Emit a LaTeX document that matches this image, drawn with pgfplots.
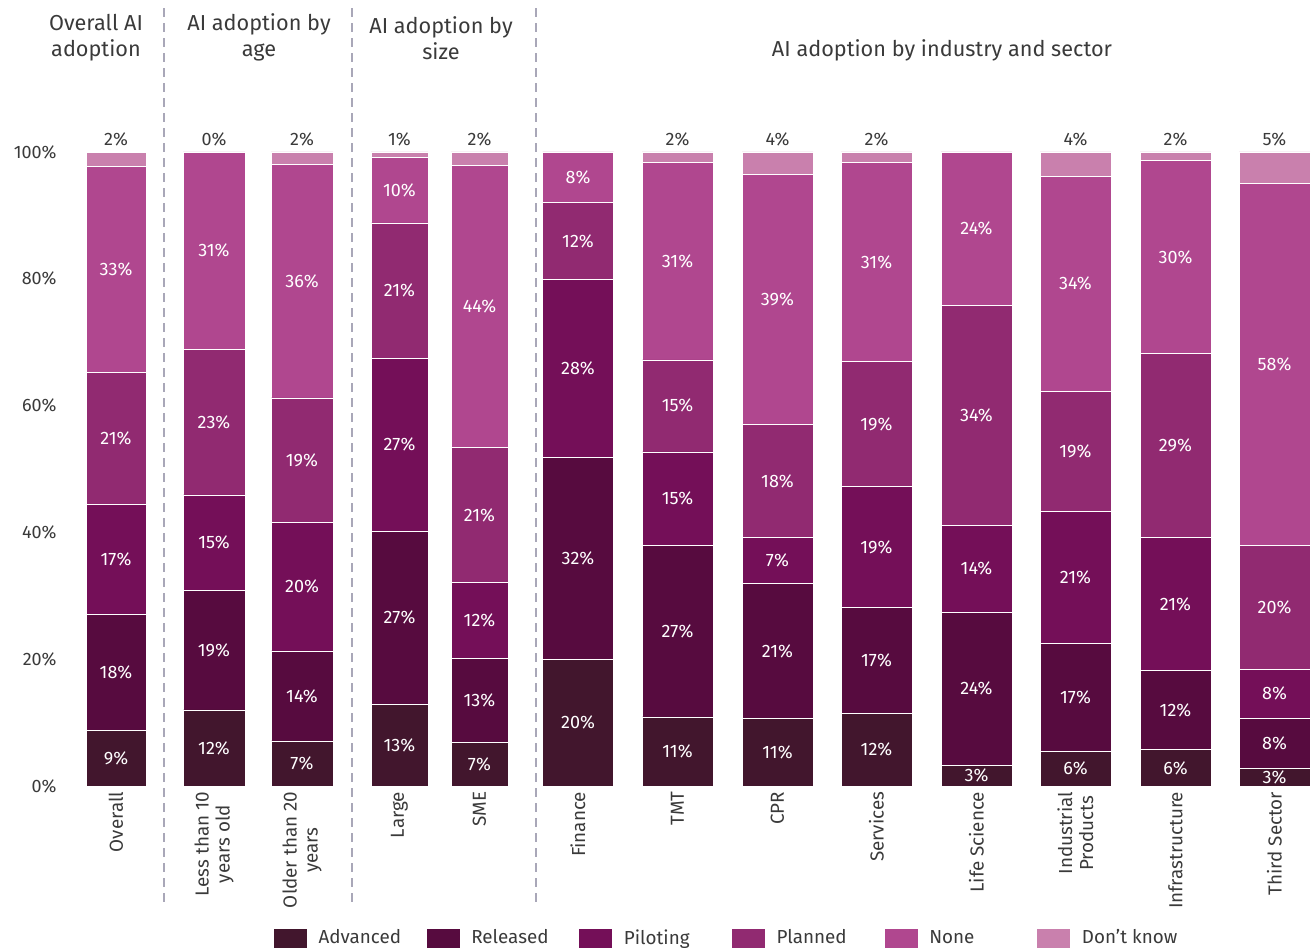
\documentclass[border=0pt]{standalone}
\usepackage{pgfplots}
\usepackage{pgfplotstable}
\pgfplotsset{compat=1.18}
\usepackage{fontspec}
\setmainfont{Fira Sans}
\definecolor{cAdv}{HTML}{42162D}
\definecolor{cRel}{HTML}{570B3F}
\definecolor{cPil}{HTML}{740F58}
\definecolor{cPla}{HTML}{912A71}
\definecolor{cNon}{HTML}{B0478F}
\definecolor{cDk}{HTML}{C980AD}
\definecolor{txt}{HTML}{3A3A3A}
\definecolor{divc}{HTML}{A9A7B8}
\def\nolbl{-}
\newcommand{\lblfont}{\fontsize{10.8}{12}\selectfont}
\newcommand{\tickfont}{\fontsize{10.8}{12.5}\selectfont}
\newcommand{\xtickfont}{\fontsize{11.3}{12.6}\selectfont}
\newcommand{\headfont}{\fontsize{13}{15.6}\selectfont}
\tikzset{divline/.style={divc, line width=1.2pt, dash pattern=on 5.4pt off 3.6pt}}

\pgfplotstableread{
x adv advL rel relL pil pilL pla plaL non nonL dk dkL
116 8.7 9 18.3 18 17.4 17 20.8 21 32.5 33 2.3 2
}\tA
\pgfplotstableread{
x adv advL rel relL pil pilL pla plaL non nonL dk dkL
214 12.0 12 18.9 19 15.0 15 23.0 23 31.09 31 0.01 0
302 7.1 7 14.2 14 20.3 20 19.6 19 36.8 36 2.0 2
}\tB
\pgfplotstableread{
x adv advL rel relL pil pilL pla plaL non nonL dk dkL
399.5 12.9 13 27.3 27 27.3 27 21.3 21 10.3 10 0.9 1
479.5 6.9 7 13.2 13 12.0 12 21.3 21 44.5 44 2.1 2
}\tC
\pgfplotstableread{
x adv advL rel relL pil pilL pla plaL non nonL dk dkL
578 19.9 20 31.9 32 28.1 28 12.1 12 8.0 8 0.0 -
677.5 10.9 11 27.1 27 14.7 15 14.5 15 31.1 31 1.7 2
777.5 10.6 11 21.3 21 7.3 7 17.8 18 39.4 39 3.6 4
876.5 11.5 12 16.6 17 19.2 19 19.6 19 31.4 31 1.7 2
976.5 3.3 3 24.1 24 13.7 14 34.7 34 24.2 24 0.0 -
1075.5 5.5 6 17.0 17 20.8 21 18.9 19 34.0 34 3.8 4
1175.5 5.7 6 12.5 12 21.0 21 29.0 29 30.4 30 1.4 2
1274.5 2.8 3 7.9 8 7.7 8 19.6 20 57.1 58 4.9 5
}\tD

\pgfplotsset{
  base/.style={
    scale only axis, width=787.8pt, height=380.4pt,
    xmin=0, xmax=1313, ymin=0, ymax=100,
    ybar stacked, clip=false,
    axis line style={draw=none}, tick style={draw=none},
    major tick length=0pt,
    ytick=\empty,
    xtick=data,
    xticklabel style={rotate=90, anchor=east, align=center, font=\xtickfont, text=txt},
    legend image code/.code={\fill[##1] (0pt,-6pt) rectangle (20.4pt,6pt);},
  },
  seg/.style={fill=#1, draw=white, line width=0.4pt,
    point meta=explicit symbolic,
    nodes near coords={\pgfplotspointmeta\%},
    every node near coord/.append style={font=\lblfont, text=white, anchor=center}},
  topseg/.style={fill=#1, draw=white, line width=0.4pt,
    point meta=explicit symbolic,
    visualization depends on={\thisrow{dk} \as \dkh},
    nodes near coords={\ifx\pgfplotspointmeta\nolbl\else\pgfplotspointmeta\%\fi},
    every node near coord/.append style={font=\lblfont, text=txt, anchor=south,
      shift={(axis direction cs:0,\dkh/2)}}},
}
\newcommand{\stackplots}[1]{%
  \addplot[seg=cAdv] table[x=x,y=adv,meta=advL]{#1};
  \addplot[seg=cRel] table[x=x,y=rel,meta=relL]{#1};
  \addplot[seg=cPil] table[x=x,y=pil,meta=pilL]{#1};
  \addplot[seg=cPla] table[x=x,y=pla,meta=plaL]{#1};
  \addplot[seg=cNon] table[x=x,y=non,meta=nonL]{#1};
  \addplot[topseg=cDk] table[x=x,y=dk,meta=dkL]{#1};
}

\begin{document}
\begin{tikzpicture}
\begin{axis}[base, bar width=60,
  ytick={0,20,40,60,80,100},
  yticklabels={0\%,20\%,40\%,60\%,80\%,100\%},
  yticklabel style={anchor=east, xshift=37.5pt, font=\tickfont, text=txt},
  xticklabels={Overall},
  legend columns=6,
  legend style={at={(0.2079,-0.2397)}, anchor=west, draw=none, fill=none,
    inner sep=0pt, outer sep=0pt, font=\xtickfont, text=txt,
    nodes={inner sep=0pt},
    /tikz/every odd column/.style={column sep=6.6pt}},
]
\stackplots{\tA}
\addlegendentry{\makebox[64.2pt][l]{Advanced}}
\addlegendentry{\makebox[64.2pt][l]{Released}}
\addlegendentry{\makebox[64.2pt][l]{Piloting}}
\addlegendentry{\makebox[64.2pt][l]{Planned}}
\addlegendentry{\makebox[64.2pt][l]{None}}
\addlegendentry{\makebox[64.2pt][l]{Don't know}}
\coordinate (bbl) at (axis cs:0,-26.18);
\coordinate (btr) at (axis cs:1313,123.97);
\draw[divline] (axis cs:164,122.7) -- (axis cs:164,-19.2);
\draw[divline] (axis cs:352,122.7) -- (axis cs:352,-19.2);
\draw[divline] (axis cs:536,122.7) -- (axis cs:536,-19.2);
\node[align=center, font=\headfont, text=txt] at (axis cs:96,118.0) {Overall AI\\adoption};
\node[align=center, font=\headfont, text=txt] at (axis cs:259,118.0) {AI adoption by\\age};
\node[align=center, font=\headfont, text=txt] at (axis cs:441,118.0) {AI adoption by\\size};
\node[align=center, font=\headfont, text=txt] at (axis cs:942,116.0) {AI adoption by industry and sector};
\end{axis}
\begin{axis}[base, bar width=62,
  xticklabels={Less than 10\\years old, Older than 20\\years}]
\stackplots{\tB}
\end{axis}
\begin{axis}[base, bar width=57,
  xticklabels={Large, SME}]
\stackplots{\tC}
\end{axis}
\begin{axis}[base, bar width=71,
  xticklabels={Finance, TMT, CPR, Services, Life Science, Industrial\\Products, Infrastructure, Third Sector}]
\stackplots{\tD}
\end{axis}
\pgfresetboundingbox
\useasboundingbox (bbl) rectangle (btr);
\end{tikzpicture}
\end{document}
